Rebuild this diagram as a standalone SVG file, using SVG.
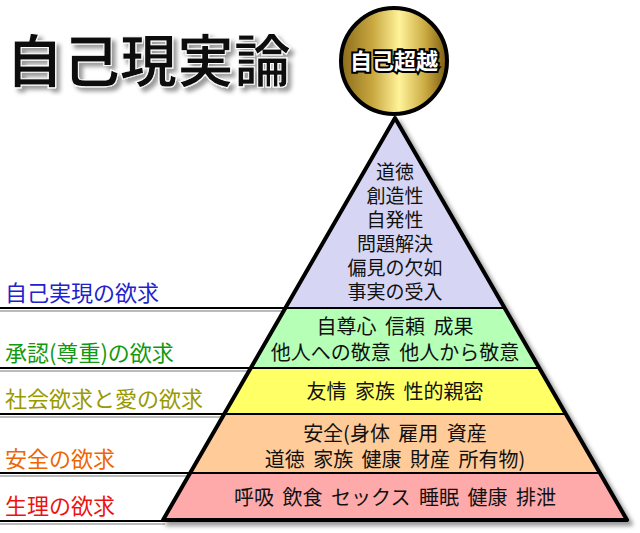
<svg xmlns="http://www.w3.org/2000/svg" width="640" height="533" viewBox="0 0 640 533">
<defs>
<linearGradient id="gold" x1="0" x2="1" y1="0" y2="0">
<stop offset="0" stop-color="#8a6a1a"/><stop offset="0.3" stop-color="#c9a840"/><stop offset="0.55" stop-color="#fff39a"/><stop offset="0.8" stop-color="#c9a840"/><stop offset="1" stop-color="#7a5a10"/>
</linearGradient>
<filter id="sh" x="-10%" y="-10%" width="130%" height="130%"><feDropShadow dx="4" dy="4" stdDeviation="2" flood-color="#000" flood-opacity="0.4"/></filter>
</defs>
<style>
text{font-family:"Noto Sans CJK JP","Noto Sans",sans-serif}
.p{font-size:20px;fill:#111;text-anchor:middle;word-spacing:4px}
.t{font-size:19px;fill:#111;text-anchor:middle}
.l{font-size:22px}
.ln{stroke:#000;stroke-width:2}
.lns{stroke:#bbb;stroke-width:2}
.b{stroke:#000;stroke-width:2}
</style>
<rect width="640" height="533" fill="#fff"/>
<g id="title"><text x="6" y="82" font-size="57" font-weight="bold" fill="#111" stroke="#fff" stroke-width="1" filter="url(#sh)">自己現実論</text></g>
<g id="connectors">
<line class="lns" x1="0" y1="311" x2="290" y2="311"/><line class="ln" x1="0" y1="308" x2="290" y2="308"/>
<line class="lns" x1="0" y1="371" x2="256" y2="371"/><line class="ln" x1="0" y1="368" x2="256" y2="368"/>
<line class="lns" x1="0" y1="417" x2="229" y2="417"/><line class="ln" x1="0" y1="414" x2="229" y2="414"/>
<line class="lns" x1="0" y1="476" x2="195" y2="476"/><line class="ln" x1="0" y1="473" x2="195" y2="473"/>
<line class="lns" x1="0" y1="524" x2="165" y2="524"/><line class="ln" x1="0" y1="521" x2="165" y2="521"/>
</g>
<g id="pyramid" filter="url(#sh)">
<polygon points="395,118 504,308 286,308" fill="#d6d6f4"/>
<polygon points="286,308 504,308 538,368 252,368" fill="#b6ffb6"/>
<polygon points="252,368 538,368 565,414 225,414" fill="#ffff66"/>
<polygon points="225,414 565,414 600,473 190,473" fill="#ffcc99"/>
<polygon points="190,473 600,473 627,520 163,520" fill="#ffaaaa"/>
<line class="b" x1="286" y1="308" x2="504" y2="308"/>
<line class="b" x1="252" y1="368" x2="538" y2="368"/>
<line class="b" x1="225" y1="414" x2="565" y2="414"/>
<line class="b" x1="190" y1="473" x2="600" y2="473"/>
<polygon points="395,118 627,520 163,520" fill="none" stroke="#000" stroke-width="4" stroke-linejoin="round"/>
</g>
<g id="n-top">
<text class="t" x="395" y="179">道徳</text><text class="t" x="395" y="203">創造性</text><text class="t" x="395" y="227">自発性</text><text class="t" x="395" y="251">問題解決</text><text class="t" x="395" y="275">偏見の欠如</text><text class="t" x="395" y="299">事実の受入</text>
</g>
<g id="n-esteem"><text class="p" x="395" y="334">自尊心 信頼 成果</text><text class="p" x="395" y="360">他人への敬意 他人から敬意</text></g>
<g id="n-social"><text class="p" x="395" y="399">友情 家族 性的親密</text></g>
<g id="n-safety"><text class="p" x="395" y="441">安全(身体 雇用 資産</text><text class="p" x="395" y="467">道徳 家族 健康 財産 所有物)</text></g>
<g id="n-phys"><text class="p" x="395" y="505">呼吸 飲食 セックス 睡眠 健康 排泄</text></g>
<g id="labels">
<text class="l" x="5" y="301" fill="#2222cc">自己実現の欲求</text>
<text class="l" x="5" y="361" fill="#119911">承認(尊重)の欲求</text>
<text class="l" x="5" y="407" fill="#999900">社会欲求と愛の欲求</text>
<text class="l" x="5" y="467" fill="#ee6600">安全の欲求</text>
<text class="l" x="5" y="514" fill="#ee1111">生理の欲求</text>
</g>
<g id="n-transcend">
<circle cx="394" cy="61" r="53" fill="url(#gold)" stroke="#000" stroke-width="4"/>
<text x="394" y="69" font-size="22" font-weight="bold" text-anchor="middle" fill="#fff" stroke="#000" stroke-width="4" paint-order="stroke">自己超越</text>
</g>
</svg>
